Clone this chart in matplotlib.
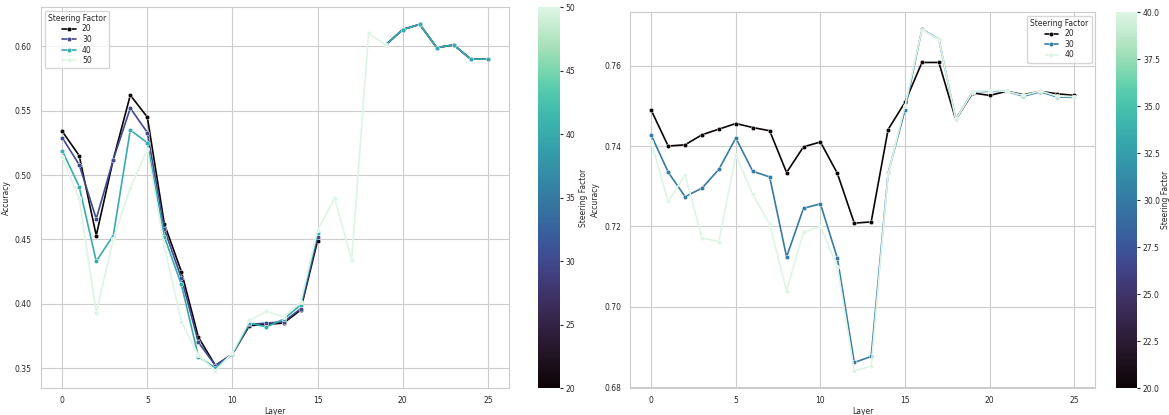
import numpy as np
import matplotlib
matplotlib.use("Agg")
import matplotlib.pyplot as plt
import seaborn as sns
from matplotlib.colors import Normalize
from matplotlib.cm import ScalarMappable

nan = np.nan

layers = list(range(26))

# left panel: steering factors 20..50
left_factors = [20, 30, 40, 50]
left_20 = [0.534, 0.515, 0.453, 0.512, 0.562, 0.545, 0.462, 0.425, 0.374, 0.352,
           0.361, 0.383, 0.384, 0.385, 0.395, 0.449, nan, nan, nan, 0.601,
           0.613, 0.617, 0.599, 0.601, 0.590, 0.590]
left_30 = [0.529, 0.508, 0.466, 0.512, 0.552, 0.533, 0.458, 0.420, 0.370, 0.352,
           0.361, 0.384, 0.385, 0.386, 0.396, 0.452, nan, nan, nan, 0.601,
           0.613, 0.617, 0.599, 0.601, 0.590, 0.590]
left_40 = [0.519, 0.491, 0.433, 0.453, 0.535, 0.525, 0.452, 0.415, 0.359, 0.350,
           0.361, 0.385, 0.382, 0.388, 0.399, 0.455, nan, nan, nan, 0.601,
           0.613, 0.617, 0.599, 0.601, 0.590, 0.590]
left_50 = [0.514, 0.482, 0.393, 0.450, 0.490, 0.520, 0.445, 0.386, 0.360, 0.348,
           0.362, 0.387, 0.394, 0.390, 0.401, 0.457, 0.482, 0.434, 0.610, 0.601,
           nan, nan, nan, nan, nan, nan]

# right panel: steering factors 20..40
right_factors = [20, 30, 40]
right_20 = [0.7489, 0.7400, 0.7403, 0.7428, 0.7442, 0.7456, 0.7446, 0.7438, 0.7334, 0.7398,
            0.7410, 0.7332, 0.7208, 0.7211, 0.7441, 0.7509, 0.7608, 0.7608, 0.7466, 0.7532,
            0.7526, 0.7536, 0.7528, 0.7536, 0.7530, 0.7526]
right_30 = [0.7427, 0.7335, 0.7274, 0.7295, 0.7342, 0.7420, 0.7337, 0.7323, 0.7124, 0.7245,
            0.7256, 0.7121, 0.6861, 0.6876, 0.7332, 0.7490, 0.7691, 0.7666, 0.7466, 0.7535,
            0.7536, 0.7536, 0.7524, 0.7535, 0.7522, 0.7521]
right_40 = [0.7410, 0.7262, 0.7328, 0.7171, 0.7162, 0.7377, 0.7280, 0.7205, 0.7040, 0.7185,
            0.7200, 0.7100, 0.6840, 0.6852, 0.7330, 0.7500, 0.7690, 0.7666, 0.7466, 0.7535,
            0.7538, 0.7536, 0.7526, 0.7537, 0.7524, 0.7523]

sns.set_style("whitegrid")
plt.rcParams["font.family"] = ["DejaVu Sans"]
cmap = sns.color_palette("mako", as_cmap=True)
FS = 5.5


def panel(fig, rect, cbar_rect, factors, series, vmin, vmax, cticks, cfmt, legend_loc, cb_pad):
    ax = fig.add_axes(rect)
    norm = Normalize(vmin, vmax)
    for f, ys in zip(factors, series):
        ax.plot(layers, ys, color=cmap(norm(f)), lw=1.2, marker="o", ms=3.2,
                mec="white", mew=0.3, label=str(f))
    ax.set_xlabel("Layer", fontsize=FS, labelpad=1)
    ax.set_ylabel("Accuracy", fontsize=FS, labelpad=3)
    ax.tick_params(axis="x", labelsize=FS, pad=2.5)
    ax.tick_params(axis="y", labelsize=FS, pad=3)
    ax.set_xticks([0, 5, 10, 15, 20, 25])
    leg = ax.legend(title="Steering Factor", loc=legend_loc, fontsize=FS,
                    title_fontsize=FS, frameon=True, handlelength=1.8,
                    borderpad=0.4, labelspacing=0.2)
    for t in leg.get_texts():
        t.set_ha("right")
    cax = fig.add_axes(cbar_rect)
    cb = fig.colorbar(ScalarMappable(norm=norm, cmap=cmap), cax=cax)
    cb.outline.set_visible(False)
    cb.set_ticks(cticks)
    cb.ax.set_yticklabels([cfmt.format(t) for t in cticks])
    cb.ax.tick_params(labelsize=FS, length=2, pad=2)
    cb.set_label("Steering Factor", fontsize=FS, labelpad=cb_pad)
    return ax


fig = plt.figure(figsize=(11.69, 4.15), dpi=100)
panel(fig, [0.035, 0.065, 0.4005, 0.918], [0.460, 0.065, 0.019, 0.918],
      left_factors, [left_20, left_30, left_40, left_50], 20, 50,
      [20, 25, 30, 35, 40, 45, 50], "{:d}", "upper left", 3)
panel(fig, [0.539, 0.065, 0.398, 0.906], [0.955, 0.065, 0.018, 0.906],
      right_factors, [right_20, right_30, right_40], 20, 40,
      [20.0, 22.5, 25.0, 27.5, 30.0, 32.5, 35.0, 37.5, 40.0], "{:.1f}", "upper right", 1)

fig.savefig("out.png", dpi=100)
